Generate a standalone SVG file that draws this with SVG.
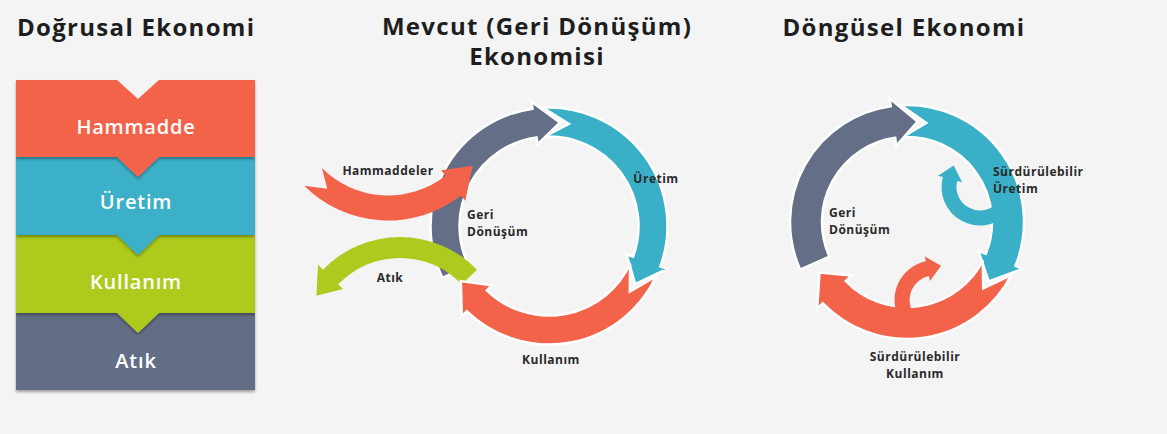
<svg xmlns="http://www.w3.org/2000/svg" width="1167" height="434" viewBox="0 0 1167 434">
<defs>
<filter id="sh" x="-10%" y="-10%" width="120%" height="140%">
<feDropShadow dx="0" dy="2" stdDeviation="1.6" flood-color="#000" flood-opacity="0.35"/>
</filter>
<style>
.title{font-family:"Open Sans","Liberation Sans",sans-serif;font-weight:700;font-size:24px;letter-spacing:1.3px;fill:#1e1e1e}
.band{font-family:"Open Sans","Liberation Sans",sans-serif;font-weight:600;font-size:20px;letter-spacing:0.8px;fill:#ffffff;text-anchor:middle}
.lbl{font-family:"Open Sans","Liberation Sans",sans-serif;font-weight:700;font-size:12px;letter-spacing:0.5px;fill:#2a2a2a}
.red{fill:#F3634A}
.teal{fill:#3AB0C8}
.green{fill:#AECA1F}
.gray{fill:#646E86}
.arr{stroke:#ffffff;stroke-width:2.5;stroke-linejoin:miter}
</style>
</defs>
<rect x="0" y="0" width="1167" height="434" fill="#F4F4F4"/>

<!-- Titles -->
<text class="title" x="17" y="36">Doğrusal Ekonomi</text>
<text class="title" x="537" y="35" text-anchor="middle">Mevcut (Geri Dönüşüm)</text>
<text class="title" x="537" y="65" text-anchor="middle">Ekonomisi</text>
<text class="title" x="904" y="36" text-anchor="middle">Döngüsel Ekonomi</text>

<!-- Linear economy -->
<g id="linear">
<g id="atik-band">
<path class="gray" filter="url(#sh)" d="M16,313 L255,313 L255,390 L16,390 Z"/>
<text class="band" x="136" y="368">Atık</text>
</g>
<g id="kullanim-band">
<path class="green" filter="url(#sh)" d="M16,235 L255,235 L255,313 L159,313 L138,333 L117,313 L16,313 Z"/>
<text class="band" x="136" y="289">Kullanım</text>
</g>
<g id="uretim-band">
<path class="teal" filter="url(#sh)" d="M16,157 L255,157 L255,235 L159,235 L138,255 L117,235 L16,235 Z"/>
<text class="band" x="136" y="209">Üretim</text>
</g>
<g id="hammadde-band">
<path class="red" filter="url(#sh)" d="M16,80 L117,80 L138,99 L159,80 L255,80 L255,157 L159,157 L138,177 L117,157 L16,157 Z"/>
<text class="band" x="136" y="134">Hammadde</text>
</g>
</g>

<!-- Current (recycling) economy -->
<g id="connectors-mevcut">
<path id="m-uretim" class="teal arr" d="M542.80,107.67 A118.5,118.5 0 0 1 660.35,266.53 L666.93,268.92 L635.22,284.16 L626.53,254.22 L633.10,256.61 A89.5,89.5 0 0 0 544.32,136.63 L568.84,123.91 Z"/>
<path id="m-geri" class="gray arr" d="M442.49,277.95 A118.5,118.5 0 0 1 532.51,108.65 L531.53,101.72 L559.87,122.57 L537.52,144.30 L536.54,137.37 A89.5,89.5 0 0 0 468.56,265.24 Z"/>
<path id="m-atik" class="green" d="M476.97,269.67 A107,107 0 0 0 323.03,269.67 L318.00,264.80 L316.43,295.75 L343.18,289.12 L338.14,284.26 A86,86 0 0 1 461.86,284.26 Z"/>
<path id="m-kullanim" class="red arr" d="M656.40,276.08 A118.5,118.5 0 0 1 466.68,311.24 L461.82,316.27 L460.81,281.11 L491.69,285.34 L486.82,290.38 A89.5,89.5 0 0 0 630.11,263.82 L629.82,291.45 Z"/>
<path id="m-hammaddeler" class="red" d="M304.21,185.79 A118.5,118.5 0 0 0 460.96,195.38 L465.27,200.89 L472.65,165.79 L441.26,170.16 L445.57,175.68 A93.5,93.5 0 0 1 321.89,168.11 L327.20,188.84 Z"/>
</g>
<g id="labels-mevcut">
<text class="lbl" x="388" y="175" text-anchor="middle">Hammaddeler</text>
<text class="lbl" x="656" y="183" text-anchor="middle">Üretim</text>
<text class="lbl" x="467" y="219">Geri</text>
<text class="lbl" x="467" y="236">Dönüşüm</text>
<text class="lbl" x="390" y="282" text-anchor="middle">Atık</text>
<text class="lbl" x="551" y="364" text-anchor="middle">Kullanım</text>
</g>

<!-- Circular economy -->
<g id="connectors-dongusel">
<path id="d-uretim" class="teal arr" d="M900.88,105.16 A117,117 0 0 1 1015.48,265.83 L1022.90,268.83 L988.71,281.37 L978.39,250.84 L985.81,253.84 A85,85 0 0 0 902.55,137.12 L926.27,122.86 Z"/>
<path id="d-uretim-loop" class="teal" d="M1007.22,214.22 A38.5,38.5 0 0 1 942.81,177.04 L937.98,175.74 L953.68,165.46 L962.13,182.21 L957.30,180.92 A23.5,23.5 0 0 0 996.62,203.62 Z"/>
<path id="d-geri" class="gray arr" d="M800.12,269.58 A117,117 0 0 1 890.71,106.14 L889.60,98.21 L917.55,121.56 L896.28,145.75 L895.17,137.82 A85,85 0 0 0 829.35,256.57 Z"/>
<path id="d-kullanim" class="red arr" d="M1011.25,275.12 A117,117 0 0 1 822.84,303.28 L817.09,308.84 L819.53,272.50 L851.61,275.49 L845.86,281.05 A85,85 0 0 0 982.74,260.59 L983.22,288.27 Z"/>
<path id="d-kullanim-loop" class="red" d="M899.79,319.75 A39.5,39.5 0 0 1 925.79,261.36 L924.75,256.48 L941.04,265.79 L929.95,280.93 L928.91,276.04 A24.5,24.5 0 0 0 912.78,312.25 Z"/>
</g>
<g id="labels-dongusel">
<text class="lbl" x="993" y="176">Sürdürülebilir</text>
<text class="lbl" x="993" y="193">Üretim</text>
<text class="lbl" x="829" y="217">Geri</text>
<text class="lbl" x="829" y="234">Dönüşüm</text>
<text class="lbl" x="915" y="361" text-anchor="middle">Sürdürülebilir</text>
<text class="lbl" x="915" y="378" text-anchor="middle">Kullanım</text>
</g>
</svg>
